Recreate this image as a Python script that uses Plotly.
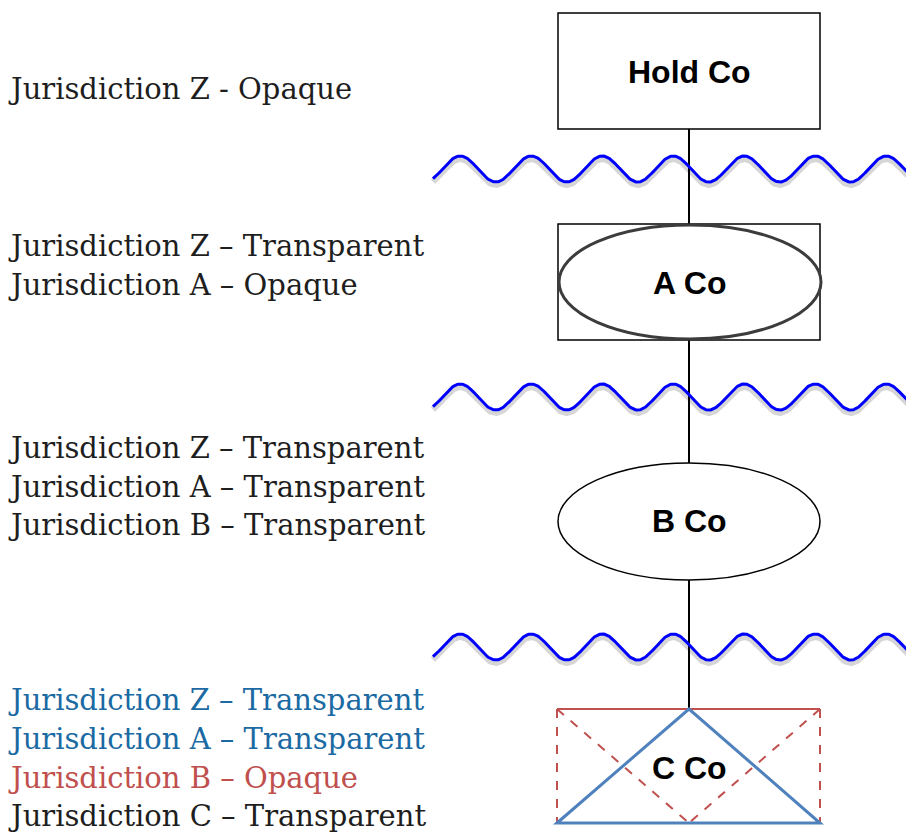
import numpy as np
import plotly.graph_objects as go

# ---- content ----
entities = ["Hold Co", "A Co", "B Co", "C Co"]
groups = [
    [("Jurisdiction Z - Opaque", "black")],
    [("Jurisdiction Z – Transparent", "black"),
     ("Jurisdiction A – Opaque", "black")],
    [("Jurisdiction Z – Transparent", "black"),
     ("Jurisdiction A – Transparent", "black"),
     ("Jurisdiction B – Transparent", "black")],
    [("Jurisdiction Z – Transparent", "blue"),
     ("Jurisdiction A – Transparent", "blue"),
     ("Jurisdiction B – Opaque", "red"),
     ("Jurisdiction C – Transparent", "black")],
]

# ---- layout (page pixel coordinates; page has an 8px body margin) ----
W, H = 914, 834
M = 8
colors = {"black": "#1e1e1e", "blue": "#1b6aa3", "red": "#c0504d"}
group_y = [[89], [246, 285], [448, 487, 525], [700, 739, 778, 816]]
entity_y = [72, 283, 521, 768]
X0, X1, XC = 558, 820, 689
wave_y = [169, 397, 647]

fig = go.Figure()
shapes = []

# connector line
shapes.append(dict(type="line", x0=XC, x1=XC, y0=129, y1=710, line=dict(color="black", width=2), layer="below"))

# Hold Co box
shapes.append(dict(type="rect", x0=X0, x1=X1, y0=13, y1=129, line=dict(color="black", width=1.5), fillcolor="white"))
# A Co box + ellipse
shapes.append(dict(type="rect", x0=X0, x1=X1, y0=224, y1=340, line=dict(color="black", width=1.5), fillcolor="white"))
shapes.append(dict(type="circle", x0=X0 + 1, x1=X1 + 1, y0=225, y1=339, line=dict(color="#3c3c3c", width=3), fillcolor="white"))
# B Co ellipse
shapes.append(dict(type="circle", x0=X0, x1=X1, y0=463, y1=580, line=dict(color="black", width=1.5), fillcolor="white"))
# C Co: red dashed box + diagonals, blue triangle
red = "#c0504d"
shapes.append(dict(type="rect", x0=557, x1=820, y0=709, y1=823, line=dict(width=0), fillcolor="white"))
shapes.append(dict(type="line", x0=557, x1=820, y0=709, y1=709, line=dict(color=red, width=2)))
shapes.append(dict(type="line", x0=557, x1=557, y0=709, y1=823, line=dict(color=red, width=2, dash="dash")))
shapes.append(dict(type="line", x0=820, x1=820, y0=709, y1=823, line=dict(color=red, width=2, dash="dash")))
shapes.append(dict(type="line", x0=557, x1=XC, y0=709, y1=823, line=dict(color=red, width=2, dash="dash")))
shapes.append(dict(type="line", x0=820, x1=XC, y0=709, y1=823, line=dict(color=red, width=2, dash="dash")))
shapes.append(dict(type="path", path=f"M 557 823 L {XC} 709 L 820 823 Z", line=dict(color="#4f81bd", width=3)))

# waves
xs = np.linspace(433, 920, 600)
period = 71.0
for yc in wave_y:
    ys = yc - 13 * np.sin(2 * np.pi * (xs - 442.5) / period)
    fig.add_trace(go.Scatter(x=xs, y=ys + 3, mode="lines", line=dict(color="rgba(0,0,0,0.16)", width=6),
                             hoverinfo="skip", showlegend=False))
    fig.add_trace(go.Scatter(x=xs, y=ys, mode="lines", line=dict(color="#0000ff", width=3),
                             hoverinfo="skip", showlegend=False))

annotations = []
for name, yy in zip(entities, entity_y):
    annotations.append(dict(x=XC, y=yy, text=f"<b>{name}</b>", showarrow=False, xanchor="center", yanchor="middle",
                            font=dict(family="Liberation Sans, Arial", size=32, color="black")))
for grp, ys in zip(groups, group_y):
    for (txt, c), yy in zip(grp, ys):
        annotations.append(dict(x=10, y=yy, xshift=-4, text=txt, showarrow=False, xanchor="left", yanchor="middle",
                                font=dict(family="DejaVu Serif", size=29, color=colors[c])))

fig.update_layout(
    width=W - M, height=H - M, margin=dict(l=0, r=0, t=0, b=0),
    paper_bgcolor="white", plot_bgcolor="white",
    xaxis=dict(range=[M, W], visible=False, fixedrange=True),
    yaxis=dict(range=[H, M], visible=False, fixedrange=True),
    shapes=shapes, annotations=annotations, showlegend=False,
)
fig.write_html("out.html")
